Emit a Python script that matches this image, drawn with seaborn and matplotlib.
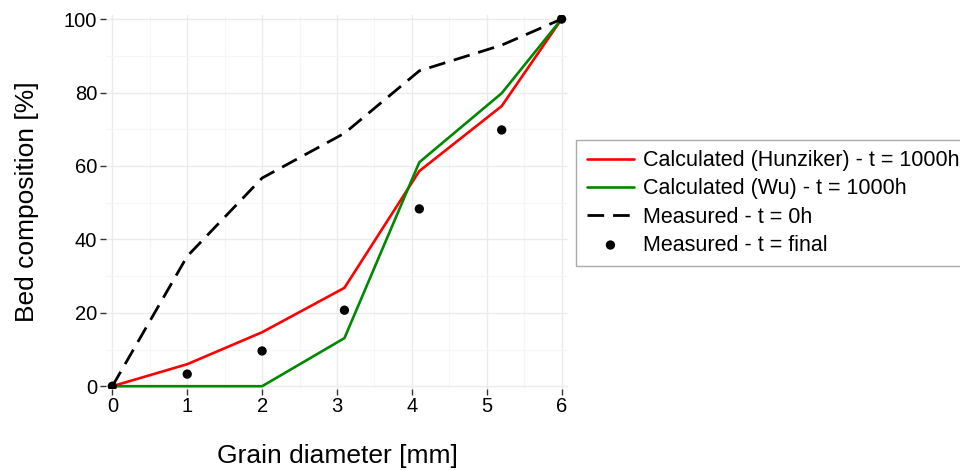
import numpy as np
import pandas as pd
import seaborn as sns
import matplotlib.pyplot as plt
from matplotlib.ticker import MultipleLocator

# grain diameters [mm]
diam = [0, 1, 2, 3.1, 4.1, 5.2, 6]

hunziker = [0, 6.0, 14.7, 26.8, 58.6, 76.3, 100]
wu = [0, 0, 0, 13.1, 61.0, 79.8, 100]
measured_0h = [0, 35.4, 56.7, 68.9, 85.9, 92.9, 100]
measured_final = [0, 3.3, 9.6, 20.7, 48.3, 69.8, 100]

sns.set_theme(style="whitegrid")
plt.rcParams['font.family'] = ['Liberation Sans', 'DejaVu Sans']
plt.rcParams['text.color'] = 'black'
plt.rcParams['axes.labelcolor'] = 'black'

fig = plt.figure(figsize=(9.6, 4.7), dpi=100)
ax = fig.add_axes([0.110, 0.172, 0.482, 0.796])

sns.lineplot(x=diam, y=hunziker, color="#ff0000", linewidth=1.9,
             label="Calculated (Hunziker) - t = 1000h", ax=ax)
sns.lineplot(x=diam, y=wu, color="#008800", linewidth=1.9,
             label="Calculated (Wu) - t = 1000h", ax=ax)
sns.lineplot(x=diam, y=measured_0h, color="black", linewidth=2.0,
             label="Measured - t = 0h", ax=ax)
ax.lines[-1].set_dashes((6, 3.2))
sns.scatterplot(x=diam, y=measured_final, color="black", s=45, edgecolor="none",
                label="Measured - t = final", ax=ax, zorder=5)

ax.set_xlim(-0.09, 6.09)
ax.set_ylim(-0.8, 101.1)
ax.xaxis.set_major_locator(MultipleLocator(1))
ax.xaxis.set_minor_locator(MultipleLocator(0.5))
ax.yaxis.set_major_locator(MultipleLocator(20))
ax.yaxis.set_minor_locator(MultipleLocator(10))
ax.grid(which="major", color="#ebebeb", linewidth=1.0)
ax.grid(which="minor", color="#f6f6f6", linewidth=0.8)
for s in ax.spines.values():
    s.set_visible(False)
ax.set_facecolor("white")

ax.tick_params(axis="both", which="major", direction="out", length=4, width=1,
               color="#333333", labelsize=14.5, labelcolor="black", pad=2,
               bottom=True, left=True)
ax.tick_params(which="minor", length=0)

ax.set_xlabel("Grain diameter [mm]", fontsize=19, labelpad=20)
ax.set_ylabel("Bed composition [%]", fontsize=19, labelpad=18)

leg = ax.legend(loc="upper left", bbox_to_anchor=(0.6, 0.703),
                bbox_transform=fig.transFigure, fontsize=15.5, frameon=True,
                fancybox=False, edgecolor="#aaaaaa", handlelength=2.2,
                handletextpad=0.4, labelspacing=0.33,
                borderpad=0.5, borderaxespad=0, framealpha=1)
leg.get_frame().set_linewidth(1.0)

fig.savefig("out.png", dpi=100)
